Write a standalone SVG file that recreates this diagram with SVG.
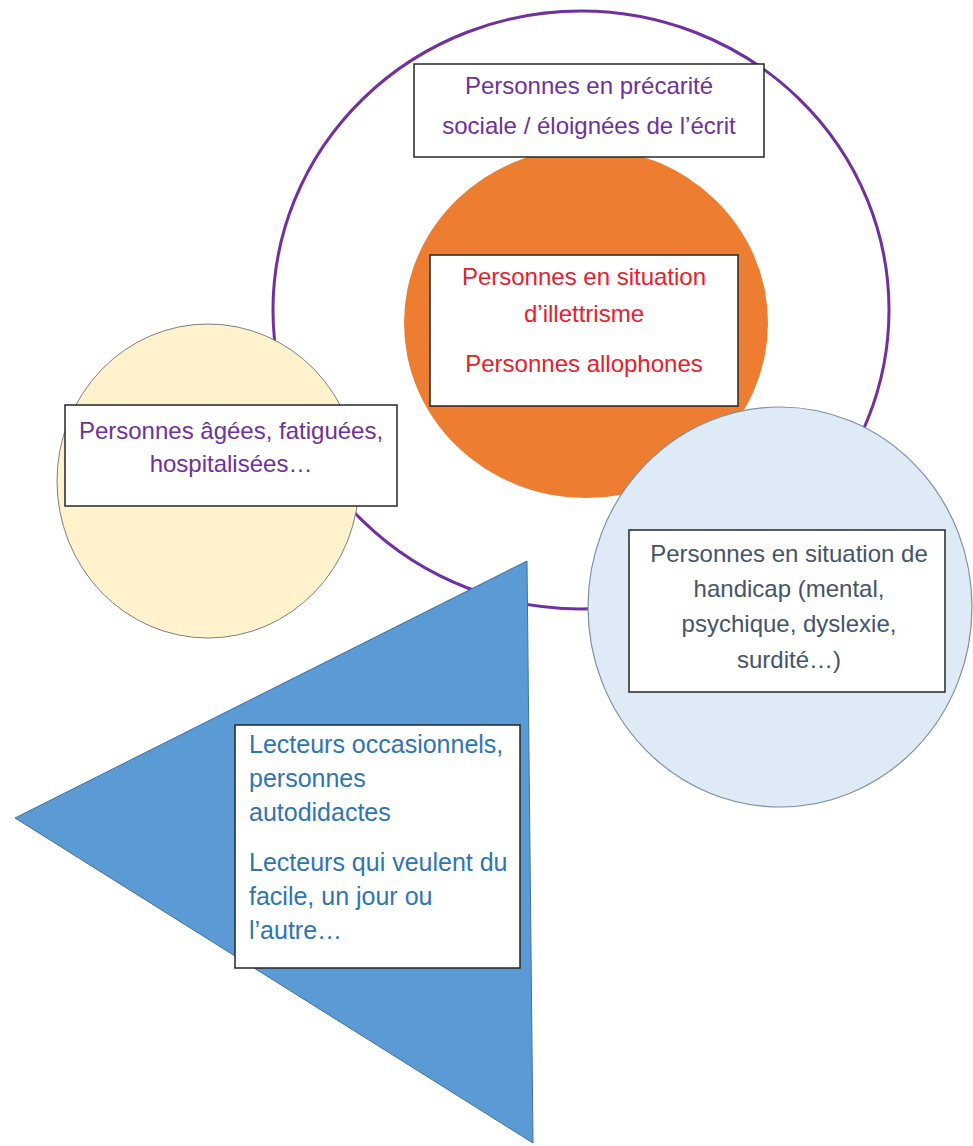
<svg xmlns="http://www.w3.org/2000/svg" width="973" height="1146" viewBox="0 0 973 1146">
<style>
text{font-family:"Liberation Sans",Arial,sans-serif;font-size:24px}
.box{fill:#fff;stroke:#262626;stroke-width:1.5}
.c{text-anchor:middle}
.pu{fill:#7030A0}
.rd{fill:#E8202A}
.sl{fill:#44546A}
.bl{fill:#2E75B6;font-size:25px}
</style>
<rect width="973" height="1146" fill="#fff"/>
<g id="precarite">
<ellipse cx="581" cy="310" rx="308" ry="299" fill="none" stroke="#7030A0" stroke-width="3"/>
</g>
<g id="illettrisme">
<ellipse cx="586" cy="323" rx="182" ry="175" fill="#ED7D31"/>
<rect class="box" x="430" y="255" width="308" height="151"/>
<text class="c rd" x="584" y="285">Personnes en situation</text>
<text class="c rd" x="584" y="322">d’illettrisme</text>
<text class="c rd" x="584" y="372">Personnes allophones</text>
</g>
<g id="precarite-label">
<rect class="box" x="414" y="64" width="350" height="93"/>
<text class="c pu" x="589" y="94">Personnes en précarité</text>
<text class="c pu" x="589" y="134">sociale / éloignées de l’écrit</text>
</g>
<g id="agees">
<ellipse cx="208" cy="481" rx="151" ry="157" fill="#FFF2CC" stroke="#7F7F7F" stroke-width="1"/>
<rect class="box" x="65" y="405" width="332" height="101"/>
<text class="c pu" x="231" y="439">Personnes âgées, fatiguées,</text>
<text class="c pu" x="231" y="472">hospitalisées…</text>
</g>
<g id="handicap">
<ellipse cx="780" cy="607" rx="192" ry="200" fill="#DEEBF7" stroke="#7E8FA3" stroke-width="1.2"/>
<rect class="box" x="629" y="530" width="316" height="162"/>
<text class="c sl" x="789" y="562">Personnes en situation de</text>
<text class="c sl" x="789" y="597">handicap (mental,</text>
<text class="c sl" x="789" y="632">psychique, dyslexie,</text>
<text class="c sl" x="789" y="668">surdité…)</text>
</g>
<g id="lecteurs">
<polygon points="527,561 15,818 533,1143" fill="#5B9BD5" stroke="#41719C" stroke-width="1"/>
<rect class="box" x="235" y="725" width="285" height="243"/>
<text class="bl" x="249" y="753">Lecteurs occasionnels,</text>
<text class="bl" x="249" y="787">personnes</text>
<text class="bl" x="249" y="821">autodidactes</text>
<text class="bl" x="249" y="871">Lecteurs qui veulent du</text>
<text class="bl" x="249" y="905">facile, un jour ou</text>
<text class="bl" x="249" y="939">l’autre…</text>
</g>
<g id="connectors"/>
</svg>
